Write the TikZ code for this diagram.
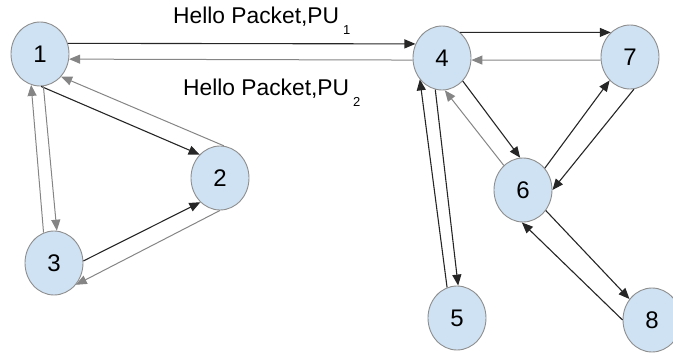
\documentclass[tikz,border=0pt]{standalone}
\usepackage{fontspec}
\setmainfont{Liberation Sans}
\usetikzlibrary{arrows.meta,shapes.geometric}
\definecolor{nodefill}{HTML}{CFE2F3}
\definecolor{nodeline}{HTML}{8E8E8E}
\definecolor{backlink}{HTML}{858585}
\tikzset{
  station/.style={ellipse,draw=nodeline,fill=nodefill,line width=0.9pt,
    minimum width=58pt,minimum height=64pt,inner sep=0pt,
    font=\fontsize{24}{24}\selectfont},
  fwd/.style={draw=black!85,line width=1.1pt,-{Triangle[length=11pt,width=9pt]}},
  rev/.style={draw=backlink,line width=1pt,-{Triangle[length=11pt,width=9pt]}},
  lbl/.style={anchor=base west,inner sep=0pt,font=\fontsize{22.8}{22.8}\selectfont}
}
\newcommand{\lowsub}[1]{\hspace{4pt}\raisebox{-11pt}{\fontsize{13}{13}\selectfont #1}}
\begin{document}
\begin{tikzpicture}[x=1pt,y=-1pt]
\useasboundingbox (0,0) rectangle (673,354);

% stations
\node[station] (n1) at (40,54)  {1};
\node[station] (n2) at (220,178) {2};
\node[station] (n3) at (54,263) {3};
\node[station] (n4) at (442,58) {4};
\node[station] (n5) at (457,318) {5};
\node[station] (n6) at (523,190) {6};
\node[station] (n7) at (630,57) {7};
\node[station] (n8) at (652,320) {8};

% hello packet labels
\node[lbl] (t1) at (173,23) {Hello Packet,PU\lowsub{1}};
\node[lbl] (t2) at (183,95) {Hello Packet,PU\lowsub{2}};

% links between 1 and 4
\draw[fwd] (n1.21) -- (n4.152);
\draw[rev] (n4.-176) -- (n1.-10);

% triangle 1-2-3
\draw[fwd] (n1.-88) -- (n2.131);
\draw[rev] (n2.83) -- (n1.-47);
\draw[rev] (n1.-84) -- (n3.85);
\draw[rev] (n3.109) -- (n1.-106);
\draw[fwd] (n3.4) -- (n2.-129);
\draw[rev] (n2.-90) -- (n3.-45);

% links around 4, 6, 7
\draw[fwd] (n4.55) -- (n7.128);
\draw[rev] (n7.-174) -- (n4.-4);
\draw[fwd] (n4.-48) -- (n6.95);
\draw[rev] (n6.128) -- (n4.-85);
\draw[fwd] (n6.45) -- (n7.-131);
\draw[fwd] (n7.-83) -- (n6.0);

% links 4-5 and 6-8
\draw[fwd] (n4.-102) -- (n5.88);
\draw[fwd] (n5.108) -- (n4.-136);
\draw[fwd] (n6.-42) -- (n8.137);
\draw[fwd] (n8.180) -- (n6.-92);
\end{tikzpicture}
\end{document}
